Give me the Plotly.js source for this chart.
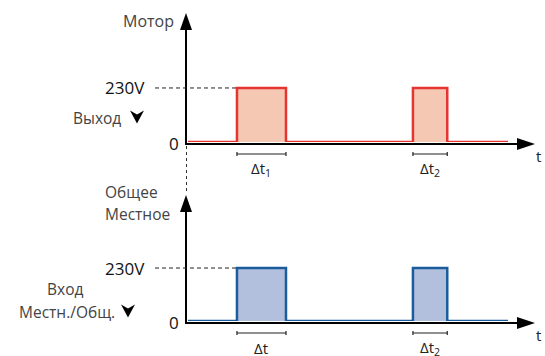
<!DOCTYPE html>
<html>
<head>
<meta charset="utf-8">
<script src="https://cdn.plot.ly/plotly-3.0.1.min.js"></script>
<style>
  html, body { margin: 0; padding: 0; background: #fff; }
  #chart { width: 545px; height: 356px; }
</style>
</head>
<body>
<div id="chart"></div>
<script>
// Pulse timing (arbitrary time units, axis origin = 0)
const pulseStart = [1.04, 4.63];
const pulseEnd = [2.04, 5.33];
const lineStart = 0.04;
const lineEnd = 6.57;
const level = 230;
const deltaTop = ['Δt<sub>1</sub>', 'Δt<sub>2</sub>'];
const deltaBottom = ['Δt', 'Δt<sub>2</sub>'];

const W = 545, H = 356;
const px = x => x / W;
const py = y => 1 - y / H;
const FONT = 'Open Sans, sans-serif';

// build the step trace from the pulse arrays
function stepSeries() {
    const x = [lineStart], y = [0];
    pulseStart.forEach((s, i) => {
        x.push(s, s, pulseEnd[i], pulseEnd[i]);
        y.push(0, level, level, 0);
    });
    x.push(lineEnd);
    y.push(0);
    return { x, y };
}

const steps = stepSeries();

const data = [
    {
        x: steps.x, y: steps.y, xaxis: 'x', yaxis: 'y',
        mode: 'lines', fill: 'tozeroy', fillcolor: '#f5c8b4',
        line: { color: '#e63430', width: 2.5 },
        hoverinfo: 'skip',
    },
    {
        x: steps.x, y: steps.y, xaxis: 'x2', yaxis: 'y2',
        mode: 'lines', fill: 'tozeroy', fillcolor: '#b2c0dd',
        line: { color: '#1b5c9c', width: 2.5 },
        hoverinfo: 'skip',
    },
];

function pathFromPx(pts) {
    return 'M' + pts.map(p => px(p[0]) + ',' + py(p[1])).join(' L') + ' Z';
}

const shapes = [];
const annotations = [];

function label(x, y, text, size, color, xanchor, yref) {
    annotations.push({
        xref: 'paper', yref: yref || 'paper', x: x, y: y,
        xanchor: xanchor || 'center', yanchor: 'middle',
        text: text, showarrow: false,
        font: { family: FONT, size: size, color: color },
    });
}

// one panel: axes with arrows, dashed guide, brackets, labels
function panel(xa, ya, zeroPx, opts) {
    const axisY = zeroPx + 2;
    // vertical axis + arrow
    shapes.push({ type: 'line', xref: 'paper', yref: 'paper',
        x0: px(186), x1: px(186), y0: py(axisY), y1: py(opts.topPx + 14),
        line: { color: '#000', width: 2 } });
    shapes.push({ type: 'path', xref: 'paper', yref: 'paper',
        path: pathFromPx([[186, opts.topPx], [192, opts.topPx + 17], [180, opts.topPx + 17]]),
        fillcolor: '#000', line: { width: 0 } });
    // horizontal axis + arrow
    shapes.push({ type: 'line', xref: 'paper', yref: 'paper',
        x0: px(185), x1: px(520), y0: py(axisY), y1: py(axisY),
        line: { color: '#000', width: 2 } });
    shapes.push({ type: 'path', xref: 'paper', yref: 'paper',
        path: pathFromPx([[535, axisY], [517, axisY - 6], [517, axisY + 6]]),
        fillcolor: '#000', line: { width: 0 } });
    // dashed 230V guide
    shapes.push({ type: 'line', xref: 'paper', yref: ya,
        x0: px(155), x1: px(236), y0: level, y1: level,
        line: { color: '#222', width: 1, dash: '4px,3px' } });
    // delta brackets
    pulseStart.forEach((s, i) => {
        const e = pulseEnd[i];
        const by = zeroPx + 12;
        const ln = { color: '#222', width: 1.2 };
        shapes.push({ type: 'line', xref: xa, yref: 'paper',
            x0: s, x1: e, y0: py(by), y1: py(by), line: ln });
        shapes.push({ type: 'line', xref: xa, yref: 'paper',
            x0: s, x1: s, y0: py(by - 2), y1: py(by + 2), line: ln });
        shapes.push({ type: 'line', xref: xa, yref: 'paper',
            x0: e, x1: e, y0: py(by - 2), y1: py(by + 2), line: ln });
        annotations.push({ xref: xa, yref: 'paper', x: (s + e) / 2, y: py(by + 15),
            xanchor: 'center', yanchor: 'middle',
            text: opts.delta[i], showarrow: false,
            font: { family: FONT, size: 15, color: '#222' } });
    });
    // 230V, 0, t
    label(px(147), level, '230V', 17, '#111', 'right', ya);
    label(px(181), py(zeroPx + 1), '0', 17, '#111', 'right');
    label(px(538), py(zeroPx + 14), 't', 15, '#222', 'center');
    // check mark
    const cx = opts.checkX, cy = opts.checkY;
    shapes.push({ type: 'path', xref: 'paper', yref: 'paper',
        path: pathFromPx([[cx - 7, cy - 6.5], [cx, cy - 2.5], [cx + 7, cy - 6.5], [cx, cy + 6.5]]),
        fillcolor: '#000', line: { width: 0 } });
}

panel('x', 'y', 142, { topPx: 13, delta: deltaTop, checkX: 137, checkY: 117 });
panel('x2', 'y2', 321, { topPx: 195, delta: deltaBottom, checkX: 128, checkY: 311 });

// dotted link between panels
shapes.push({ type: 'line', xref: 'paper', yref: 'paper',
    x0: px(186.5), x1: px(186.5), y0: py(146), y1: py(194),
    line: { color: '#333', width: 1, dash: '3px,3px' } });

label(px(176), py(21), 'Мотор', 16, '#444', 'right');
label(px(123), py(118), 'Выход', 15.5, '#444', 'right');
label(px(103), py(192), 'Общее', 15.5, '#444', 'left');
label(px(103), py(214), 'Местное', 15.5, '#444', 'left');
label(px(65), py(289), 'Вход', 15.5, '#444', 'center');
label(px(117), py(312), 'Местн./Общ.', 15.5, '#444', 'right');

const hidden = { visible: false, showgrid: false, zeroline: false, fixedrange: true };

const layout = {
    width: W, height: H,
    margin: { t: 0, r: 0, b: 0, l: 0 },
    paper_bgcolor: '#fff', plot_bgcolor: 'rgba(0,0,0,0)',
    showlegend: false,
    xaxis: { ...hidden, domain: [px(186), px(534)], range: [0, 7.1], anchor: 'y' },
    yaxis: { ...hidden, domain: [py(142), py(14)], range: [0, 545], anchor: 'x' },
    xaxis2: { ...hidden, domain: [px(186), px(534)], range: [0, 7.1], anchor: 'y2' },
    yaxis2: { ...hidden, domain: [py(321), py(195)], range: [0, 547], anchor: 'x2' },
    shapes: shapes,
    annotations: annotations,
};

Plotly.newPlot('chart', data, layout, { displayModeBar: false, staticPlot: true });
</script>
</body>
</html>
